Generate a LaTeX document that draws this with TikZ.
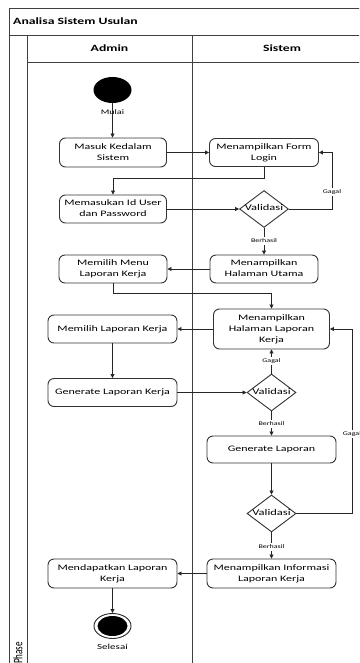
\documentclass[tikz,border=0pt]{standalone}
\usepackage{fontspec}
\setmainfont{Carlito}
\usepackage{graphicx}
\usetikzlibrary{shapes.geometric,arrows.meta}
\newcommand\sq[1]{\scalebox{1}[0.7]{\begin{tabular}{@{}c@{}}#1\end{tabular}}}
\begin{document}
\begin{tikzpicture}[x=1pt,y=-1pt,
  act/.style={draw=black!80, line width=0.9pt, rounded corners=6pt, fill=white, inner sep=0pt, font=\fontsize{12}{15.5}\selectfont},
  dec/.style={draw=black!80, line width=0.9pt, diamond, minimum width=49pt, minimum height=37pt, inner sep=0pt, fill=white},
  arr/.style={draw=black!85, line width=0.8pt, -{Triangle[length=4pt,width=4pt]}},
  lbl/.style={fill=white, inner sep=0.6pt, font=\fontsize{8}{9}\selectfont},
  frame/.style={draw=black!75, line width=0.9pt},
  hdr/.style={font=\fontsize{13.7}{15}\selectfont\bfseries, inner sep=0pt}]
\useasboundingbox (0,0) rectangle (359,663);
\clip (0,0) rectangle (359,663);
% frame
\draw[frame] (9,8) rectangle (372,700);
\draw[frame] (9,35) -- (372,35);
\draw[frame] (27,35) -- (27,700);
\draw[frame] (27,62) -- (372,62);
\draw[frame] (192,35) -- (192,700);
\node[hdr, anchor=west] (title) at (13,22) {\sq{Analisa Sistem Usulan}};
\node[hdr] (hadmin) at (109.5,49) {\sq{Admin}};
\node[hdr] (hsistem) at (282,49) {\sq{Sistem}};
\node[font=\fontsize{13}{15}\selectfont, rotate=90, inner sep=0pt] (phase) at (18,653) {\scalebox{0.7}[1]{Phase}};
% nodes
\node[ellipse, fill=black, minimum width=38pt, minimum height=26pt, inner sep=0pt] (start) at (112.5,90) {};
\node[font=\fontsize{10}{12}\selectfont, inner sep=0pt] (mulai) at (112.5,113) {\sq{Mulai}};
\node[act, minimum width=107pt, minimum height=29pt] (masuk) at (113,152.5) {\sq{Masuk Kedalam\\Sistem}};
\node[act, minimum width=109pt, minimum height=28pt] (form) at (264,152.5) {\sq{Menampilkan Form\\Login}};
\node[act, minimum width=107pt, minimum height=28pt] (memasukan) at (113,209) {\sq{Memasukan Id User\\dan Password}};
\node[dec, label={[font=\fontsize{12.5}{14}\selectfont]center:\sq{Validasi}}] (val1) at (264,209) {};
\node[act, minimum width=108pt, minimum height=28pt] (utama) at (264,269) {\sq{Menampilkan\\Halaman Utama}};
\node[act, minimum width=108pt, minimum height=28pt] (menu) at (113,269) {\sq{Memilih Menu\\Laporan Kerja}};
\node[act, minimum width=116pt, minimum height=40pt] (hlk) at (271.5,329) {\sq{Menampilkan\\Halaman Laporan\\Kerja}};
\node[act, minimum width=129pt, minimum height=28pt] (pilih) at (112.5,329) {\sq{Memilih Laporan Kerja}};
\node[act, minimum width=129pt, minimum height=28pt] (genk) at (112.5,392.5) {\sq{Generate Laporan Kerja}};
\node[dec, label={[font=\fontsize{12.5}{14}\selectfont]center:\sq{Validasi}}] (val2) at (271.5,392.5) {};
\node[act, minimum width=129pt, minimum height=27pt] (gen) at (271.5,449.5) {\sq{Generate Laporan}};
\node[dec, label={[font=\fontsize{12.5}{14}\selectfont]center:\sq{Validasi}}] (val3) at (271.5,513.5) {};
\node[act, minimum width=129pt, minimum height=29pt] (info) at (271.5,573.5) {\sq{Menampilkan Informasi\\Laporan Kerja}};
\node[act, minimum width=129pt, minimum height=29pt] (dapat) at (112.5,573.5) {\sq{Mendapatkan Laporan\\Kerja}};
\node[ellipse, draw=black!85, line width=0.9pt, fill=white, minimum width=37pt, minimum height=25pt, inner sep=0pt] (end) at (112.5,626) {};
\fill[black] (end.center) ellipse (15 and 10);
\node[font=\fontsize{11}{13}\selectfont, inner sep=0pt] (selesai) at (112.5,648) {\sq{Selesai}};
\coordinate (g1) at (332,209);
\coordinate (g2) at (352,513.5);
% connectors
\draw[arr] (start.south) -- (start.south |- masuk.north);
\draw[arr] (masuk.east) -- (masuk.east -| form.west);
\draw[arr] (form.south) -- ++(0,11) -| (memasukan.north);
\draw[arr] (memasukan.east) -- (val1.west);
\draw[arr] (val1.east) -- (g1) |- (form.east);
\draw[arr] (val1.south) -- (utama.north);
\draw[arr] (utama.west) -- (menu.east);
\draw[arr] (menu.south) -- ++(0,10) -| (hlk.north);
\draw[arr] (hlk.west) -- (hlk.west -| pilih.east);
\draw[arr] (pilih.south) -- (genk.north);
\draw[arr] (genk.east) -- (val2.west);
\draw[arr] (val2.north) -- (hlk.south);
\draw[arr] (val2.south) -- (gen.north);
\draw[arr] (gen.south) -- (val3.north);
\draw[arr] (val3.east) -- (g2) |- (hlk.east);
\draw[arr] (val3.south) -- (info.north);
\draw[arr] (info.west) -- (dapat.east);
\draw[arr] (dapat.south) -- (end.north);
% labels
\node[lbl] (lg1) at (332,192) {\sq{Gagal}};
\node[lbl] (lb1) at (264,241) {\sq{Berhasil}};
\node[lbl] (lg2) at (271.5,361) {\sq{Gagal}};
\node[lbl] (lb2) at (271.5,424) {\sq{Berhasil}};
\node[lbl] (lg3) at (352,434) {\sq{Gagal}};
\node[lbl] (lb3) at (271.5,547) {\sq{Berhasil}};
\end{tikzpicture}
\end{document}
